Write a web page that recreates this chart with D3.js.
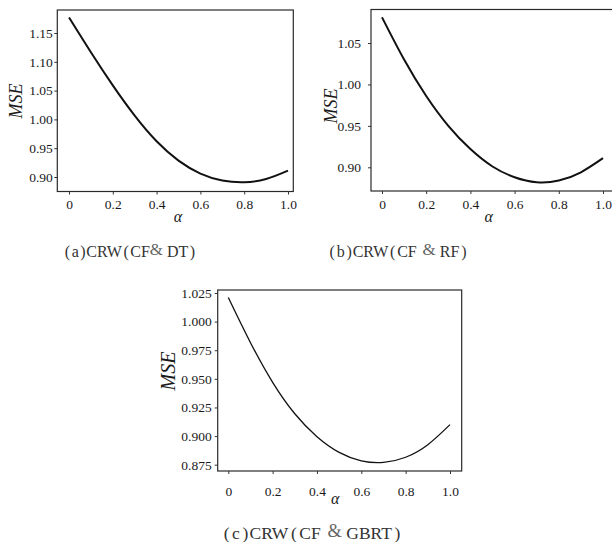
<!DOCTYPE html>
<html>
<head>
<meta charset="utf-8">
<script src="https://cdn.jsdelivr.net/npm/d3@7/dist/d3.min.js"></script>
<style>
  body { margin: 0; background: #fff; }
  svg { display: block; }
  svg text { font-family: "Liberation Serif", "DejaVu Serif", serif; }
</style>
</head>
<body>
<svg id="chart" width="612" height="542"></svg>
<script>
// ---- data ----
const alpha = [0, 0.1, 0.2, 0.3, 0.4, 0.5, 0.6, 0.7, 0.8, 0.9, 1.0];
const mseDT   = [1.177, 1.1165, 1.059, 1.0065, 0.962, 0.9285, 0.906, 0.894, 0.891, 0.8965, 0.911];
const mseRF   = [1.081, 1.030, 0.986, 0.950, 0.922, 0.901, 0.888, 0.882, 0.884, 0.894, 0.911];
const mseGBRT = [1.021, 0.9816, 0.947, 0.9195, 0.8995, 0.8858, 0.8784, 0.877, 0.8815, 0.8925, 0.910];
const xTicks = [0, 0.2, 0.4, 0.6, 0.8, 1.0];
const yTicksA = [0.90, 0.95, 1.00, 1.05, 1.10, 1.15];
const yTicksB = [0.90, 0.95, 1.00, 1.05];
const yTicksC = [0.875, 0.900, 0.925, 0.950, 0.975, 1.000, 1.025];
const captionLabels = ["a", "b", "c"];
const captionMethods = ["DT", "RF", "GBRT"];

const svg = d3.select("#chart");
const serif = '"Liberation Serif", "DejaVu Serif", serif';

function panel(o) {
  const g = svg.append("g");
  const x = d3.scaleLinear().domain([0, 1]).range(o.xr);
  const y = d3.scaleLinear().domain(o.yd).range(o.yr);

  g.append("rect")
    .attr("x", o.f[0]).attr("y", o.f[2])
    .attr("width", o.f[1] - o.f[0]).attr("height", o.f[3] - o.f[2])
    .attr("fill", "none").attr("stroke", "#2a2a2a").attr("stroke-width", 1.2);

  const ya = g.append("g").attr("transform", `translate(${o.f[0]},0)`)
    .call(d3.axisLeft(y).tickValues(o.yt).tickFormat(d3.format(o.yf))
      .tickSize(3).tickPadding(o.ypad).tickSizeOuter(0));
  const xa = g.append("g").attr("transform", `translate(0,${o.f[3]})`)
    .call(d3.axisBottom(x).tickValues(xTicks).tickFormat(d => d === 0 ? "0" : d3.format(".1f")(d))
      .tickSize(3).tickPadding(o.xpad).tickSizeOuter(0));
  [ya, xa].forEach(a => {
    a.attr("font-family", null);
    a.select(".domain").remove();
    a.selectAll("line").attr("stroke", "#333").attr("stroke-width", 1);
    a.selectAll("text").style("font-family", serif).attr("font-size", 13.5).attr("fill", "#1a1a1a");
  });

  const line = d3.line().x((d, i) => x(alpha[i])).y(d => y(d)).curve(d3.curveNatural);
  g.append("path").datum(o.data).attr("d", line)
    .attr("fill", "none").attr("stroke", "#111").attr("stroke-width", o.lw);

  g.append("text").attr("transform", `translate(${o.mse[0]},${o.mse[1]}) rotate(-90)`)
    .attr("text-anchor", "middle").attr("dominant-baseline", "central")
    .style("font-family", serif).attr("font-style", "italic").attr("font-size", o.msefs)
    .attr("fill", "#1a1a1a").text("MSE");
  g.append("text").attr("x", o.al[0]).attr("y", o.al[1])
    .attr("text-anchor", "middle")
    .style("font-family", serif).attr("font-style", "italic").attr("font-size", 16)
    .attr("fill", "#1a1a1a").text("α");

  const cap = g.append("text").attr("x", o.cap[0]).attr("y", o.cap[1])
    .attr("text-anchor", "middle")
    .style("font-family", serif).attr("font-size", o.capfs).attr("fill", "#333");
  const P = o.pg;
  cap.append("tspan").text("(");
  cap.append("tspan").attr("dx", P).text(captionLabels[o.idx]);
  cap.append("tspan").attr("dx", P).text(")");
  cap.append("tspan").attr("dx", P * 0.5).text("CRW");
  cap.append("tspan").attr("dx", P).text("(");
  cap.append("tspan").attr("dx", P).text("CF" + (o.sp ? " " : ""));
  cap.append("tspan").attr("dx", o.sp ? P : 0).attr("dy", -2).attr("fill", "#666").attr("font-size", o.capfs + 1).text("&");
  cap.append("tspan").attr("dy", 2).text(" " + captionMethods[o.idx]);
  cap.append("tspan").attr("dx", P).text(")");
}

panel({ idx: 0, f: [57.3, 293.3, 10, 191.5], xr: [69, 288], yd: [0.90, 1.15], yr: [177, 33],
  yt: yTicksA, yf: ".2f", ypad: 1.5, xpad: 4.5, data: mseDT, lw: 2,
  mse: [16, 101], msefs: 18, al: [178, 222], cap: [130, 257], capfs: 16, pg: 1.5, sp: false });
panel({ idx: 1, f: [371, 613, 9.5, 191], xr: [382, 603], yd: [0.90, 1.05], yr: [167.3, 43],
  yt: yTicksB, yf: ".2f", ypad: 7, xpad: 5.5, data: mseRF, lw: 2,
  mse: [331, 106], msefs: 18, al: [488.7, 222], cap: [398, 257], capfs: 16, pg: 1.8, sp: true });
panel({ idx: 2, f: [217.7, 461.7, 290, 471], xr: [228.3, 450], yd: [0.875, 1.025], yr: [464.7, 293],
  yt: yTicksC, yf: ".3f", ypad: 3, xpad: 12, data: mseGBRT, lw: 1.3,
  mse: [168, 371], msefs: 20, al: [335.3, 504], cap: [312, 539], capfs: 17.5, pg: 2.5, sp: true });
</script>
</body>
</html>
